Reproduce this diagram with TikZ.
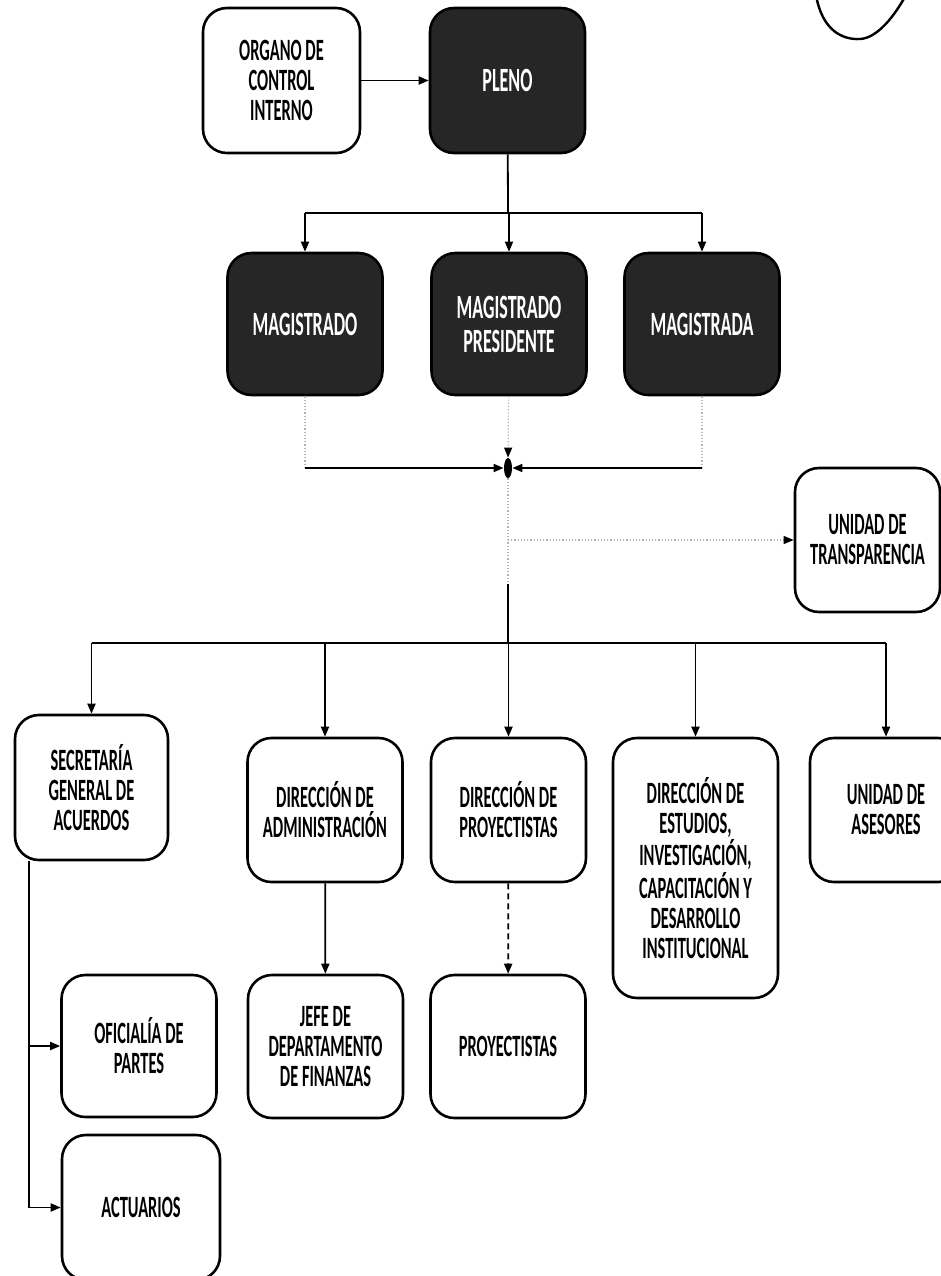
\documentclass[tikz,border=0pt]{standalone}
\usepackage{fontspec}
\setmainfont{Carlito}[FakeStretch=0.53]
\usepackage{tikz}
\usetikzlibrary{arrows.meta}
\usetikzlibrary{shapes.geometric}
\tikzset{
	box/.style={draw,line width=1.3pt,rounded corners=12pt,minimum width=77.5pt,minimum height=72pt,align=center,inner sep=2pt,font=\fontsize{15.5}{15}\selectfont\bfseries},
	darkbox/.style={box,fill=black!85,text=white,font=\fontsize{17}{17}\selectfont\bfseries},
	junc/.style={ellipse,fill=black,minimum width=4pt,minimum height=10pt,inner sep=0pt},
	line/.style={line width=0.9pt},
	conn/.style={line,-{Triangle[length=5pt,width=4pt]}},
	faint/.style={line width=0.6pt,black!30,densely dotted},
	fainttip/.style={faint,-{Triangle[length=5pt,width=4pt,black]}}
}
\begin{document}
\begin{tikzpicture}[x=0.5pt,y=-0.5pt]
	\useasboundingbox (0,0) rectangle (941,1276);
	\clip (0,0) rectangle (941,1276);
	\draw[line width=1.2pt] (816,-5) .. controls (822,30) and (842,40) .. (860,39) .. controls (878,38) and (895,15) .. (906,-5);
	\node[box,minimum width=78.5pt,minimum height=72.5pt] (organo) at (281.5,80.5) {ORGANO DE\\CONTROL\\INTERNO};
	\node[darkbox,minimum height=72.5pt] (pleno) at (507.5,80.5) {PLENO};
	\node[darkbox,minimum height=71pt] (mag1) at (305,324) {MAGISTRADO};
	\node[darkbox,minimum height=71pt] (magp) at (509,324) {MAGISTRADO\\PRESIDENTE};
	\node[darkbox,minimum height=71pt] (mag2) at (702,324) {MAGISTRADA};
	\node[junc] (junc) at (508,468) {};
	\node[box,minimum width=72.5pt] (transp) at (867.5,540) {UNIDAD DE\\TRANSPARENCIA};
	\node[box,minimum width=76.5pt,minimum height=72.5pt] (secretaria) at (91.5,787.5) {SECRETARÍA\\GENERAL DE\\ACUERDOS};
	\node[box] (admin) at (325,810) {DIRECCIÓN DE\\ADMINISTRACIÓN};
	\node[box] (dirproy) at (508.5,810) {DIRECCIÓN DE\\PROYECTISTAS};
	\node[box,minimum width=82.5pt,minimum height=130pt] (estudios) at (695.5,868) {DIRECCIÓN DE\\ESTUDIOS,\\INVESTIGACIÓN,\\CAPACITACIÓN Y\\DESARROLLO\\INSTITUCIONAL};
	\node[box,minimum width=76pt] (asesores) at (886,810) {UNIDAD DE\\ASESORES};
	\node[box,minimum height=71.5pt] (jefe) at (325.5,1046.5) {JEFE DE\\DEPARTAMENTO\\DE FINANZAS};
	\node[box,minimum height=71.5pt] (proyectistas) at (508,1046.5) {PROYECTISTAS};
	\node[box,minimum height=71pt] (oficialia) at (139,1046) {OFICIALÍA DE\\PARTES};
	\node[box,minimum width=79pt,minimum height=72.5pt] (actuarios) at (141,1207.5) {ACTUARIOS};
	\coordinate (bus1) at (508,213);
	\coordinate (bus2) at (508,643);
	\coordinate (stem) at (508,584);
	\coordinate (sgleg) at ([xshift=7.5pt]secretaria.south west);
	\draw[conn] (organo) -- (pleno);
	\draw[line] (pleno) -- (bus1);
	\draw[line] (bus1 -| mag1) -- (bus1 -| mag2);
	\foreach \m in {mag1,magp,mag2}
		\draw[conn] (bus1 -| \m) -- (\m);
	\draw[faint] (mag1) -- (mag1 |- junc);
	\draw[conn] (mag1 |- junc) -- (junc);
	\draw[faint] (mag2) -- (mag2 |- junc);
	\draw[conn] (mag2 |- junc) -- (junc);
	\draw[fainttip] (magp) -- (junc);
	\draw[faint] (junc) -- (stem);
	\draw[line] (stem) -- (bus2);
	\draw[fainttip] (junc |- transp) -- (transp);
	\draw[line] (bus2 -| secretaria) -- (bus2 -| asesores);
	\foreach \n in {secretaria,admin,dirproy,estudios,asesores}
		\draw[conn] (bus2 -| \n) -- (\n);
	\draw[conn] (admin) -- (jefe);
	\draw[conn,densely dashed] (dirproy) -- (proyectistas);
	\draw[conn] (sgleg) |- (oficialia);
	\draw[conn] (sgleg) |- (actuarios);
\end{tikzpicture}
\end{document}
